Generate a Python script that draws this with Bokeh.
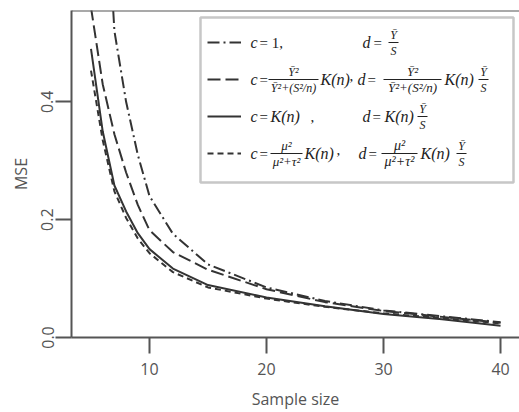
from bokeh.plotting import figure
from bokeh.models import (ColumnDataSource, Range1d, FixedTicker, PrintfTickFormatter,
                          Span, BoxAnnotation, Label, Legend, LegendItem)
from bokeh.embed import file_html
from bokeh.resources import INLINE

# ---------------- data ----------------
sample_size = [5, 6, 7, 8, 9, 10, 12, 15, 20, 25, 30, 35, 40]
mse_c1 = [1.30, 0.87, 0.52, 0.40, 0.31, 0.240, 0.176, 0.124, 0.085, 0.062, 0.046, 0.036, 0.026]
mse_ybar = [0.56, 0.43, 0.345, 0.280, 0.225, 0.182, 0.145, 0.115, 0.082, 0.060, 0.045, 0.035, 0.025]
mse_k = [0.49, 0.35, 0.258, 0.214, 0.177, 0.150, 0.117, 0.089, 0.068, 0.053, 0.040, 0.031, 0.020]
mse_mu = [0.453, 0.335, 0.248, 0.203, 0.168, 0.143, 0.111, 0.085, 0.066, 0.052, 0.041, 0.033, 0.024]
x_ticks = [10, 20, 30, 40]
y_ticks = [0.0, 0.2, 0.4]

W, H = 519, 412
X0, X1, YMAX = 3.333, 41.62, 0.555
FL, FR, FT, FB = 71, 519, 10, 337   # frame edges on the canvas (px)

AX = "#555555"
INK = "#333333"
TXT = "#222222"
SANS = "Open Sans"
SERIF = "Liberation Serif"

p = figure(width=W, height=H, output_backend="svg", toolbar_location=None,
           x_range=Range1d(X0, X1), y_range=Range1d(0, YMAX),
           min_border_left=FL, min_border_right=W - FR, min_border_top=FT,
           min_border_bottom=H - FB)
p.outline_line_color = None
p.grid.visible = False
p.background_fill_color = "white"

for ax in (p.xaxis[0], p.yaxis[0]):
    ax.axis_line_color = AX
    ax.axis_line_width = 2
    ax.major_tick_line_color = AX
    ax.major_tick_line_width = 2
    ax.major_tick_out = 16
    ax.major_tick_in = 0
    ax.minor_tick_line_color = None
    ax.major_label_text_font = SANS
    ax.major_label_text_font_size = "16px"
    ax.major_label_text_color = AX
    ax.axis_label_text_font = SANS
    ax.axis_label_text_font_size = "16px"
    ax.axis_label_text_font_style = "normal"
    ax.axis_label_text_color = AX

p.xaxis.ticker = FixedTicker(ticks=x_ticks)
p.xaxis.major_label_standoff = 9
p.xaxis.axis_label = "Sample size"
p.xaxis.axis_label_standoff = 10

p.yaxis.ticker = FixedTicker(ticks=y_ticks)
p.yaxis.formatter = PrintfTickFormatter(format="%.1f")
p.yaxis.major_label_orientation = "vertical"
p.yaxis.major_label_standoff = 2
p.yaxis.axis_label = "MSE"
p.yaxis.axis_label_standoff = 7

p.add_layout(Span(location=YMAX, dimension="width", line_color=AX, line_width=2))

src = ColumnDataSource(dict(n=sample_size, c1=mse_c1, ybar=mse_ybar, k=mse_k, mu=mse_mu))
r_c1 = p.line("n", "c1", source=src, line_color=INK, line_width=2, line_dash="12 4 2 4")
r_ybar = p.line("n", "ybar", source=src, line_color=INK, line_width=2, line_dash="13 5")
r_k = p.line("n", "k", source=src, line_color=INK, line_width=2)
r_mu = p.line("n", "mu", source=src, line_color=INK, line_width=2, line_dash="6 4")


def px2x(px):
    return X0 + (px - FL) * (X1 - X0) / (FR - FL)


def py2y(py):
    return (FB - py) * YMAX / (FB - FT)


# legend frame
p.add_layout(BoxAnnotation(left=px2x(200), right=px2x(513), top=py2y(17), bottom=py2y(182),
                           fill_color="white", fill_alpha=1, line_color="#444444",
                           line_width=2.5))

legend = Legend(items=[LegendItem(label="", renderers=[r]) for r in (r_c1, r_ybar, r_k, r_mu)],
                location=(207 - FL, FB - 163), orientation="vertical",
                glyph_width=34, glyph_height=20, label_height=20, spacing=17,
                padding=0, margin=0, label_standoff=0, label_width=0,
                border_line_alpha=0, background_fill_alpha=0,
                label_text_font_size="8px")
p.add_layout(legend, "center")


def txt(s, px, py, size=16, style="italic", align="left"):
    p.add_layout(Label(x=px2x(px), y=py2y(py), text=s, text_font=SERIF,
                       text_font_size=f"{size}px", text_font_style=style,
                       text_color=TXT, text_align=align, text_baseline="middle"))


def bar(px_left, px_right, py):
    p.add_layout(BoxAnnotation(left=px2x(px_left), right=px2x(px_right),
                               top=py2y(py - 0.5), bottom=py2y(py + 0.5),
                               fill_color=TXT, fill_alpha=1, line_alpha=0))


def frac(num, den, px_left, px_right, cy, size):
    c = (px_left + px_right) / 2
    txt(num, c, cy - 8, size, "italic", "center")
    bar(px_left, px_right, cy)
    txt(den, c, cy + 8, size, "italic", "center")


# row 1
cy = 42
txt("c", 250, cy); txt("= 1,", 259, cy, 15, "normal")
txt("d", 362, cy); txt("=", 373, cy, 15, "normal")
frac("Ȳ", "S", 388, 398, cy, 12)

# row 2
cy = 79
txt("c", 250, cy); txt("=", 259, cy, 15, "normal")
frac("Ȳ²", "Ȳ²+(S²/n)", 268, 318, cy, 12)
txt("K(n)", 320, cy); txt(",", 349, cy - 4, 15, "normal")
txt("d", 357, cy); txt("=", 367, cy, 15, "normal")
frac("Ȳ²", "Ȳ²+(S²/n)", 383, 441, cy, 13)
txt("K(n)", 444, cy)
frac("Ȳ", "S", 478, 488, cy, 12)

# row 3
cy = 116
txt("c", 250, cy); txt("=", 259, cy, 15, "normal")
txt("K(n)", 270, cy); txt(",", 310, cy, 15, "normal")
txt("d", 362, cy); txt("=", 372, cy, 15, "normal")
txt("K(n)", 384, cy)
frac("Ȳ", "S", 417, 427, cy, 12)

# row 4
cy = 153
txt("c", 250, cy); txt("=", 259, cy, 15, "normal")
frac("μ²", "μ²+τ²", 270, 302, cy, 13)
txt("K(n)", 304, cy); txt(",", 336, cy - 4, 15, "normal")
txt("d", 358, cy); txt("=", 368, cy, 15, "normal")
frac("μ²", "μ²+τ²", 381, 417, cy, 14)
txt("K(n)", 420, cy)
frac("Ȳ", "S", 456, 466, cy, 12)

open("out.html", "w").write(file_html(p, INLINE))
